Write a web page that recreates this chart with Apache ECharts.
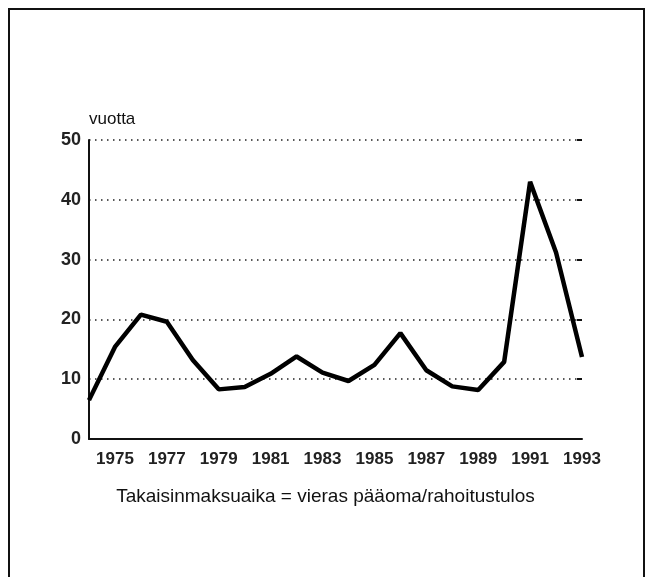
<!DOCTYPE html>
<html>
<head>
<meta charset="utf-8">
<script src="https://cdn.jsdelivr.net/npm/echarts@6/dist/echarts.min.js"></script>
<style>
html,body{margin:0;padding:0;background:#fff;}
#chart{width:651px;height:577px;}
</style>
</head>
<body>
<div id="chart"></div>
<script>
const years = ['1974','1975','1976','1977','1978','1979','1980','1981','1982','1983','1984','1985','1986','1987','1988','1989','1990','1991','1992','1993'];
const values = [6.5,15.4,20.8,19.6,13.2,8.3,8.7,10.9,13.8,11.1,9.7,12.4,17.7,11.5,8.8,8.2,12.9,43.0,31.2,13.7];
const yTicks = [0,10,20,30,40,50];
const yUnit = 'vuotta';
const caption = 'Takaisinmaksuaika = vieras pääoma/rahoitustulos';

const chart = echarts.init(document.getElementById('chart'), null, {renderer:'canvas'});
const font = 'Liberation Sans, Arial, Helvetica, sans-serif';
chart.setOption({
  animation:false,
  backgroundColor:'#fff',
  grid:{left:89, right:69, top:140, bottom:138, containLabel:false},
  graphic:[
    {type:'rect', shape:{x:9,y:9,width:635,height:620}, style:{fill:'none', stroke:'#111', lineWidth:2}},
    {type:'text', left:89, top:111, style:{text:yUnit, font:'17px '+font, fill:'#111'}},
    {type:'text', left:'center', top:487, style:{text:caption, font:'19px '+font, fill:'#111', textAlign:'center'}}
  ],
  xAxis:{
    type:'category', data:years, boundaryGap:false,
    axisLine:{show:true, lineStyle:{color:'#111', width:2}},
    axisTick:{show:false},
    axisLabel:{interval:(i,v)=>parseInt(v)%2===1, color:'#222', fontSize:17, fontWeight:'bold', fontFamily:font, margin:12},
    splitLine:{show:false}
  },
  yAxis:[{
    type:'value', min:yTicks[0], max:yTicks[yTicks.length-1], interval:10,
    axisLine:{show:true, lineStyle:{color:'#111', width:2}},
    axisTick:{show:false},
    axisLabel:{color:'#222', fontSize:18, fontWeight:'bold', fontFamily:font, margin:8},
    splitLine:{show:true, lineStyle:{color:'#222', width:1.5, type:[1.5,4.5]}}
  },{
    type:'value', min:yTicks[0], max:yTicks[yTicks.length-1], interval:10, position:'right',
    axisLine:{show:false},
    axisTick:{show:true, inside:true, length:5, lineStyle:{color:'#111', width:2}},
    axisLabel:{show:false},
    splitLine:{show:false}
  }],
  series:[{
    type:'line', data:values, symbol:'none', smooth:false,
    lineStyle:{color:'#000', width:4.5}
  }]
});
</script>
</body>
</html>
